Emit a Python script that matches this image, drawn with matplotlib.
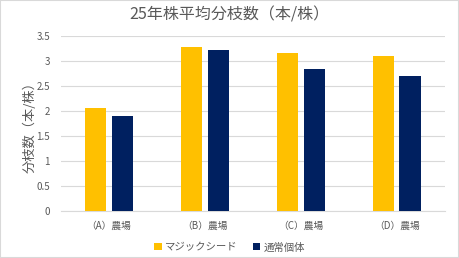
import matplotlib
matplotlib.use("Agg")

import matplotlib.pyplot as plt
import numpy as np

plt.rcParams["font.family"] = ["Noto Sans CJK JP", "DejaVu Sans"]

categories = ["（A）農場", "（B）農場", "（C）農場", "（D）農場"]
magic_seed = [2.07, 3.28, 3.17, 3.10]
normal = [1.91, 3.22, 2.84, 2.70]
yticks = [0, 0.5, 1, 1.5, 2, 2.5, 3, 3.5]
ytick_labels = ["0", "0.5", "1", "1.5", "2", "2.5", "3", "3.5"]

fig = plt.figure(figsize=(4.59, 2.58), dpi=100)
ax = fig.add_axes([0.133, 0.182, 0.836, 0.678])

x = np.arange(len(categories))
w = 0.22
gap = 0.055
ax.bar(x - (w + gap) / 2, magic_seed, w, color="#FFC000", label="マジックシード", zorder=3)
ax.bar(x + (w + gap) / 2, normal, w, color="#002060", label="通常個体", zorder=3)

ax.set_xlim(-0.5, len(categories) - 0.5)
ax.set_ylim(0, 3.5)
ax.set_yticks(yticks)
ax.set_yticklabels(ytick_labels)
ax.set_xticks(x)
ax.set_xticklabels(categories)
ax.tick_params(axis="both", length=0, labelsize=7, colors="#595959", pad=7)
ax.tick_params(axis="y", pad=8)
ax.grid(axis="y", color="#D9D9D9", linewidth=0.8, zorder=0)
for s in ["top", "right", "left"]:
    ax.spines[s].set_visible(False)
ax.spines["bottom"].set_color("#D9D9D9")

ax.set_ylabel("分枝数（本/株）", fontsize=9.5, color="#595959", labelpad=0)
fig.suptitle("25年株平均分枝数（本/株）", fontsize=11.5, color="#595959", y=0.975)

fig.legend(loc="lower center", bbox_to_anchor=(0.5, -0.015), ncol=2, frameon=False,
           fontsize=7.5, handlelength=0.7, handleheight=0.7, handletextpad=0.3,
           columnspacing=1.5, labelcolor="#595959")

fig.patches.append(plt.Rectangle((0, 0), 1, 1, transform=fig.transFigure,
                                 fill=False, edgecolor="#D9D9D9", linewidth=1.5))

fig.savefig("out.png", dpi=100)
